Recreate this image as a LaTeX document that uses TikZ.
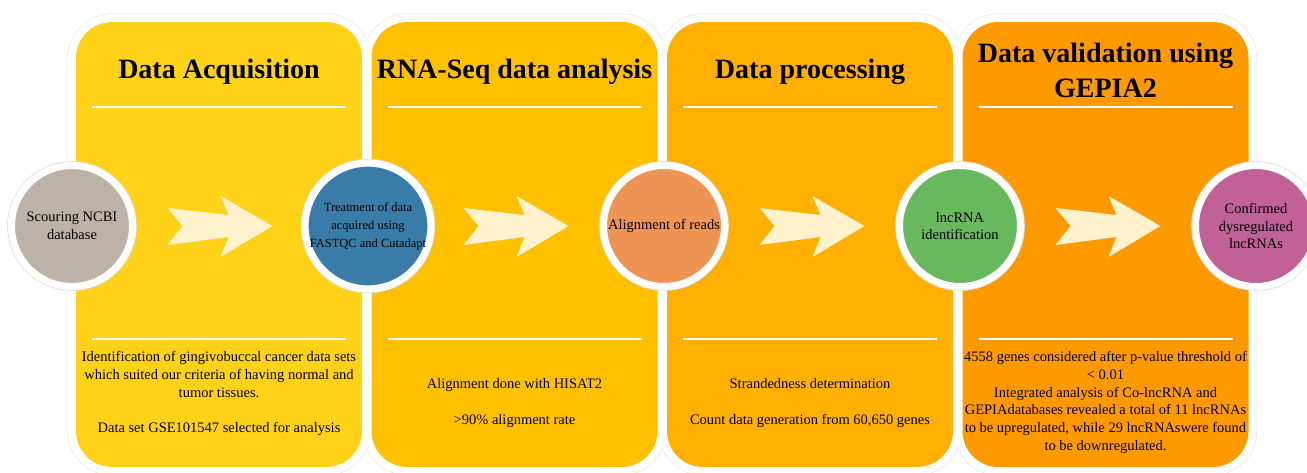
\documentclass[tikz,border=0pt]{standalone}
\usepackage{fontspec}
\setmainfont{Liberation Serif}
\usepackage{tikz}
\usetikzlibrary{calc,positioning,backgrounds}

\definecolor{stageA}{RGB}{253,210,24}
\definecolor{stageB}{RGB}{255,192,0}
\definecolor{stageC}{RGB}{255,176,0}
\definecolor{stageD}{RGB}{255,153,0}
\definecolor{dotGray}{RGB}{189,178,168}
\definecolor{dotBlue}{RGB}{58,124,168}
\definecolor{dotOrange}{RGB}{238,148,85}
\definecolor{dotGreen}{RGB}{104,185,94}
\definecolor{dotPurple}{RGB}{192,98,152}
\definecolor{cream}{RGB}{255,242,204}

\tikzset{
  panel/.style={rectangle, rounded corners=36pt, minimum width=286pt,
    minimum height=445pt, inner sep=0pt, outer sep=0pt},
  dot/.style={circle, minimum size=121pt, inner sep=0pt, draw=white,
    line width=7pt, preaction={draw=black!12, line width=8.6pt},
    align=center, font=\fontsize{14.5}{17.5}\selectfont},
  title/.style={font=\fontsize{28}{35}\selectfont\bfseries, align=center},
  body/.style={font=\fontsize{14.5}{17.8}\selectfont, align=center},
  rule/.style={draw=white, line width=2pt},
  pics/fatarrow/.style={code={
    \fill[cream] (-52.5,-18) -- (8.5,-11) -- (0.5,-30) -- (52.5,0)
      -- (0.5,31) -- (8.5,11) -- (-52.5,19) -- (-37.5,0) -- cycle;}}
}

\begin{document}
\begin{tikzpicture}[x=1pt, y=-1pt, on grid]
\useasboundingbox (0,0) rectangle (1307,472);

% stage panels
\node[panel, fill=stageA] (P1) at (219,244.5) {};
\node[panel, fill=stageB, right=295.5pt of P1] (P2) {};
\node[panel, fill=stageC, right=295.5pt of P2] (P3) {};
\node[panel, fill=stageD, right=295.5pt of P3] (P4) {};

\begin{scope}[on background layer]
  \foreach \p in {P1,P2,P3,P4}
    \draw[black!12, line width=17pt, rounded corners=36pt]
      (\p.south west) rectangle (\p.north east);
  \foreach \p in {P1,P2,P3,P4}
    \draw[white, line width=16pt, rounded corners=36pt]
      (\p.south west) rectangle (\p.north east);
\end{scope}

\foreach \p in {P1,P2,P3,P4} {
  \draw[rule] ($(\p.north west)+(16,85)$) -- ($(\p.north east)+(-16,85)$);
  \draw[rule] ($(\p.north west)+(16,317)$) -- ($(\p.north east)+(-16,317)$);
}

% titles
\node[title] (T1) at ($(P1.north)+(0,50)$) {Data Acquisition};
\node[title] (T2) at ($(P2.north)+(0,50)$) {RNA-Seq data analysis};
\node[title] (T3) at ($(P3.north)+(0,50)$) {Data processing};
\node[title] (T4) at ($(P4.north)+(0,48.5)$) {Data validation using\\GEPIA2};

% step circles
\node[dot, fill=dotGray] (C1) at (72,226) {Scouring NCBI\\database};
\node[dot, fill=dotBlue, right=296pt of C1, font=\fontsize{12.5}{18}\selectfont]
  (C2) {Treatment of data\\acquired using\\FASTQC and Cutadapt};
\node[dot, fill=dotOrange, right=296pt of C2] (C3) {Alignment of reads};
\node[dot, fill=dotGreen, right=296pt of C3] (C4) {lncRNA\\identification};
\node[dot, fill=dotPurple, right=296pt of C4] (C5) {Confirmed\\dysregulated\\lncRNAs};

\pic at ($(C1)!0.5!(C2)$) {fatarrow};
\pic at ($(C2)!0.5!(C3)$) {fatarrow};
\pic at ($(C3)!0.5!(C4)$) {fatarrow};
\pic at ($(C4)!0.5!(C5)$) {fatarrow};

% details
\node[body] (D1) at ($(P1.north)+(0,371.5)$) {Identification of gingivobuccal cancer data sets\\
  which suited our criteria of having normal and\\tumor tissues.\\[17.8pt]
  Data set GSE101547 selected for analysis};
\node[body] (D2) at ($(P2.north)+(0,381)$) {Alignment done with HISAT2\\[18pt]
  >90\% alignment rate};
\node[body] (D3) at ($(P3.north)+(0,381)$) {Strandedness determination\\[18pt]
  Count data generation from 60,650 genes};
\node[body] (D4) at ($(P4.north)+(0,380.5)$) {4558 genes considered after p-value threshold of\\
  < 0.01\\Integrated analysis of Co-lncRNA and\\
  GEPIAdatabases revealed a total of 11 lncRNAs\\
  to be upregulated, while 29 lncRNAswere found\\to be downregulated.};
\end{tikzpicture}
\end{document}
